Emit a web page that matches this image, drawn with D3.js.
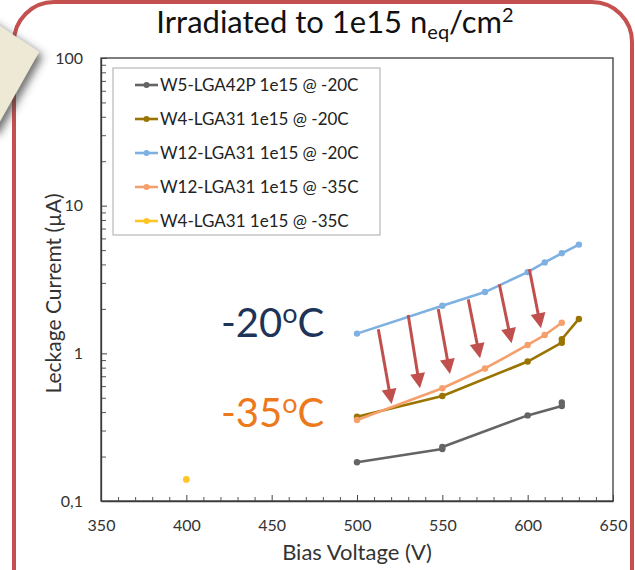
<!DOCTYPE html>
<html>
<head>
<meta charset="utf-8">
<script src="https://cdn.jsdelivr.net/npm/d3@7/dist/d3.min.js"></script>
<style>
  html, body { margin: 0; padding: 0; background: #ffffff; }
  svg { display: block; }
  text { font-family: Lato, "Open Sans", sans-serif; }
</style>
</head>
<body>
<svg id="chart" width="635" height="570"></svg>
<script>
// ---------- data ----------
const seriesNames = [
  "W5-LGA42P 1e15 @ -20C",
  "W4-LGA31 1e15 @ -20C",
  "W12-LGA31 1e15 @ -20C",
  "W12-LGA31 1e15 @ -35C",
  "W4-LGA31 1e15 @ -35C"
];
const seriesColors = ["#646464", "#9a7400", "#7eb1e2", "#f5a06c", "#ffc526"];

const w5_20_V = [500, 550, 550, 600, 620, 620];
const w5_20_I = [0.183, 0.225, 0.232, 0.38, 0.44, 0.465];

const w4_20_V = [500, 550, 600, 620, 620, 630];
const w4_20_I = [0.372, 0.514, 0.88, 1.18, 1.245, 1.71];

const w12_20_V = [500, 550, 575, 600, 610, 620, 630];
const w12_20_I = [1.36, 2.1, 2.6, 3.55, 4.13, 4.76, 5.45];

const w12_35_V = [500, 550, 575, 600, 610, 620];
const w12_35_I = [0.354, 0.58, 0.79, 1.14, 1.33, 1.61];

const w4_35_V = [400];
const w4_35_I = [0.14];

const xTicks = [350, 400, 450, 500, 550, 600, 650];
const yTicks = [0.1, 1, 10, 100];
const yTickLabels = ["0,1", "1", "10", "100"];

// annotation arrows (from -20C curve down to -35C curve), in data units
const arrowFromV = [512.5, 530, 547.6, 565.2, 583.4, 601];
const arrowFromI = [1.455, 1.818, 1.996, 2.32, 2.935, 3.71];
const arrowToV   = [520.3, 536.9, 554.5, 572.1, 590.6, 607.8];
const arrowToI   = [0.454, 0.58, 0.724, 0.925, 1.17, 1.478];

// ---------- drawing ----------
const svg = d3.select("#chart");
const defs = svg.append("defs");
const f = defs.append("filter").attr("id", "shadow")
  .attr("x", "-50%").attr("y", "-50%").attr("width", "200%").attr("height", "200%");
f.append("feDropShadow").attr("dx", 4).attr("dy", 4).attr("stdDeviation", 4)
  .attr("flood-color", "#3c3c3c").attr("flood-opacity", 0.75);

// outer red frame
svg.append("rect")
  .attr("x", 14).attr("y", 2).attr("width", 618).attr("height", 640)
  .attr("rx", 40).attr("ry", 40)
  .attr("fill", "#ffffff").attr("stroke", "#c4514f").attr("stroke-width", 4);

// paper note in top-left corner
svg.append("polygon")
  .attr("points", "-60,-14 39,52 -6,132 -105,66")
  .attr("fill", "#eee9d5")
  .attr("filter", "url(#shadow)");

const x = d3.scaleLinear().domain([350, 650]).range([101, 613]);
const y = d3.scaleLog().domain([0.1, 100]).range([501, 58]);

// plot area border
svg.append("rect")
  .attr("x", x(350)).attr("y", y(100))
  .attr("width", x(650) - x(350)).attr("height", y(0.1) - y(100))
  .attr("fill", "none").attr("stroke", "#3a3a3a").attr("stroke-width", 1.3);

// x axis
const xMinor = d3.range(350, 651, 10).filter(v => v % 50 !== 0);
svg.append("g").attr("transform", `translate(0,${y(0.1)})`)
  .call(d3.axisBottom(x).tickValues(xMinor).tickSizeInner(-4).tickSizeOuter(0).tickFormat(""))
  .call(g => g.select(".domain").remove())
  .call(g => g.selectAll("line").attr("stroke", "#555"));
const gx = svg.append("g").attr("transform", `translate(0,${y(0.1)})`)
  .call(d3.axisBottom(x).tickValues(xTicks).tickSizeInner(-6).tickSizeOuter(0).tickPadding(19));
gx.select(".domain").attr("stroke", "#3a3a3a").attr("stroke-width", 1.3);
gx.selectAll("line").attr("stroke", "#444");
gx.selectAll("text").attr("font-size", 16).attr("fill", "#333")
  .attr("font-family", "Lato, sans-serif");

// y axis
const yMinor = [];
[0.1, 1, 10].forEach(d => { for (let k = 2; k <= 9; k++) yMinor.push(d * k); });
svg.append("g").attr("transform", `translate(${x(350)},0)`)
  .call(d3.axisLeft(y).tickValues(yMinor).tickSizeInner(-5).tickSizeOuter(0).tickFormat(""))
  .call(g => g.select(".domain").remove())
  .call(g => g.selectAll("line").attr("stroke", "#555"));
const gy = svg.append("g").attr("transform", `translate(${x(350)},0)`)
  .call(d3.axisLeft(y).tickValues(yTicks).tickSizeInner(-6).tickSizeOuter(0).tickPadding(18)
    .tickFormat((d, i) => yTickLabels[i]));
gy.select(".domain").attr("stroke", "#3a3a3a").attr("stroke-width", 1.3);
gy.selectAll("line").attr("stroke", "#444");
gy.selectAll("text").attr("font-size", 16).attr("fill", "#333")
  .attr("font-family", "Lato, sans-serif");

// axis titles
svg.append("text")
  .attr("x", (x(350) + x(650)) / 2).attr("y", 560)
  .attr("text-anchor", "middle").attr("font-size", 22).attr("fill", "#333")
  .text("Bias Voltage (V)");
svg.append("text")
  .attr("transform", `translate(61,${(y(0.1) + y(100)) / 2 + 14}) rotate(-90)`)
  .attr("text-anchor", "middle").attr("font-size", 21).attr("fill", "#333")
  .text("Leckage Curremt (µA)");

// title
const title = svg.append("text")
  .attr("x", 335).attr("y", 33).attr("text-anchor", "middle")
  .attr("font-size", 31).attr("fill", "#111");
title.append("tspan").text("Irradiated to 1e15 n");
title.append("tspan").attr("font-size", 20).attr("dy", 6).text("eq");
title.append("tspan").attr("dy", -6).text("/cm");
title.append("tspan").attr("font-size", 20).attr("dy", -11).text("2");

// series
const series = [
  { V: w5_20_V, I: w5_20_I },
  { V: w4_20_V, I: w4_20_I },
  { V: w12_20_V, I: w12_20_I },
  { V: w12_35_V, I: w12_35_I },
  { V: w4_35_V, I: w4_35_I }
];
const line = d3.line().x(d => x(d[0])).y(d => y(d[1]));
series.forEach((s, i) => {
  const pts = s.V.map((v, k) => [v, s.I[k]]);
  const g = svg.append("g");
  if (pts.length > 1) {
    g.append("path").datum(pts).attr("d", line)
      .attr("fill", "none").attr("stroke", seriesColors[i]).attr("stroke-width", 2.6)
      .attr("stroke-linejoin", "round");
  }
  g.selectAll("circle").data(pts).join("circle")
    .attr("cx", d => x(d[0])).attr("cy", d => y(d[1]))
    .attr("r", i === 4 ? 3.4 : 3.2).attr("fill", seriesColors[i]);
});

// legend
const lg = svg.append("g");
lg.append("rect").attr("x", 113).attr("y", 68).attr("width", 267).attr("height", 167)
  .attr("fill", "#fff").attr("stroke", "#a9a9a9").attr("stroke-width", 1);
seriesNames.forEach((n, i) => {
  const yy = 85 + i * 34;
  lg.append("line").attr("x1", 135).attr("x2", 158).attr("y1", yy).attr("y2", yy)
    .attr("stroke", seriesColors[i]).attr("stroke-width", 2.6);
  lg.append("circle").attr("cx", 146.5).attr("cy", yy).attr("r", 3).attr("fill", seriesColors[i]);
  lg.append("text").attr("x", 160).attr("y", yy).attr("dy", "0.35em")
    .attr("font-size", 17).attr("fill", "#222").text(n);
});

// arrows
const arrowColor = "#c0504d";
arrowFromV.forEach((v, i) => {
  const x1 = x(v), y1 = y(arrowFromI[i]);
  const x2 = x(arrowToV[i]), y2 = y(arrowToI[i]);
  const dx = x2 - x1, dy = y2 - y1, L = Math.hypot(dx, dy);
  const ux = dx / L, uy = dy / L, px = -uy, py = ux;
  const hl = 15, hw = 7.5;
  const bx = x2 - ux * hl, by = y2 - uy * hl;
  svg.append("line").attr("x1", x1).attr("y1", y1).attr("x2", bx + ux * 2).attr("y2", by + uy * 2)
    .attr("stroke", arrowColor).attr("stroke-width", 3);
  svg.append("polygon")
    .attr("points", `${x2},${y2} ${bx + px * hw},${by + py * hw} ${bx - px * hw},${by - py * hw}`)
    .attr("fill", arrowColor);
});

// temperature labels
function tempLabel(txt, color, yBase) {
  const t = svg.append("text").attr("x", 221).attr("y", yBase)
    .attr("font-size", 40).attr("fill", color);
  t.append("tspan").text(txt);
  t.append("tspan").attr("font-size", 27).attr("dy", -14).text("o");
  t.append("tspan").attr("dy", 14).text("C");
}
tempLabel("-20", "#1e3358", 337);
tempLabel("-35", "#ec7a1c", 427);
</script>
</body>
</html>
